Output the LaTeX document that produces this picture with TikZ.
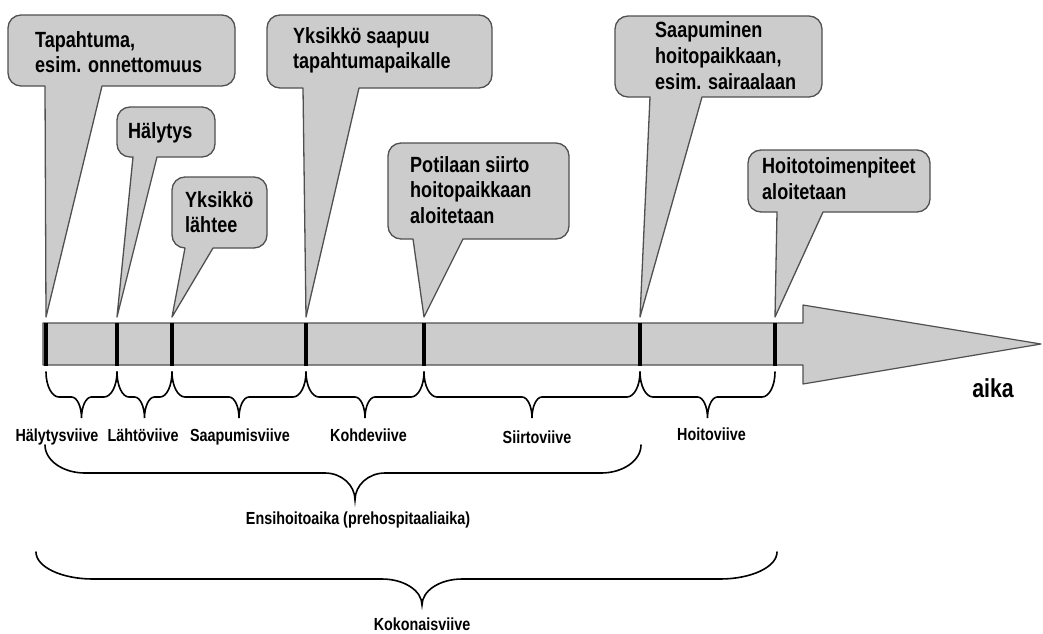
\documentclass[tikz,border=0pt]{standalone}
\usepackage{fontspec}
\usepackage{graphicx}
\setmainfont{Liberation Sans}
\definecolor{boxfill}{RGB}{204,204,204}
\definecolor{edgecol}{RGB}{80,80,80}
\newcommand\narr[1]{\scalebox{0.82}[1]{#1}}
\tikzset{
  calloutshape/.style={fill=boxfill, draw=edgecol, line width=1.3pt, line join=round},
  barshape/.style={fill=boxfill, draw=edgecol, line width=1.2pt, line join=round},
  tickline/.style={line width=4pt, black},
  bracestyle/.style={line width=1.6pt, black, line cap=round},
  ctxt/.style={anchor=base west, inner sep=0pt, font=\fontsize{22}{25.5}\selectfont\bfseries},
  lab/.style={anchor=base, inner sep=0pt, font=\fontsize{17.5}{20}\selectfont\bfseries},
}
% #1 L, #2 T, #3 R, #4 B, #5 base1, #6 base2, #7 tip
\newcommand\callout[7]{%
  \filldraw[calloutshape] (#5,#4) -- ({#1+13},#4) .. controls ({#1+5.8},#4) and (#1,{#4-5.8}) .. (#1,{#4-13})
   -- (#1,{#2+13}) .. controls (#1,{#2+5.8}) and ({#1+5.8},#2) .. ({#1+13},#2)
   -- ({#3-13},#2) .. controls ({#3-5.8},#2) and (#3,{#2+5.8}) .. (#3,{#2+13})
   -- (#3,{#4-13}) .. controls (#3,{#4-5.8}) and ({#3-5.8},#4) .. ({#3-13},#4)
   -- (#6,#4) -- (#7) -- cycle;}
% #1 a, #2 b, #3 tip x, #4 y0, #5 y1, #6 y2, #7 end radius, #8 tip radius
\newcommand\mybrace[8]{%
  \draw[bracestyle] (#1,#4) .. controls (#1,{#4+0.552*(#5-#4)}) and ({#1+0.448*#7},#5) .. ({#1+#7},#5)
   -- ({#3-#8},#5) .. controls ({#3-0.448*#8},#5) and (#3,{#6-0.552*(#6-#5)}) .. (#3,#6)
   .. controls (#3,{#6-0.552*(#6-#5)}) and ({#3+0.448*#8},#5) .. ({#3+#8},#5)
   -- ({#2-#7},#5) .. controls ({#2-0.448*#7},#5) and (#2,{#4+0.552*(#5-#4)}) .. (#2,#4);}
\begin{document}
\begin{tikzpicture}[x=1pt,y=-1pt]
\useasboundingbox (0,0) rectangle (1043,633);
% tick coordinates
\coordinate (k1) at (46,323);
\coordinate (k2) at (117,323);
\coordinate (k3) at (172,323);
\coordinate (k4) at (306,323);
\coordinate (k5) at (424,323);
\coordinate (k6) at (640,323);
\coordinate (k7) at (775,323);
% pointer tips
\coordinate (p1) at (46,317);
\coordinate (p2) at (117,317);
\coordinate (p3) at (172,317);
\coordinate (p4) at (306,317);
\coordinate (p5) at (424,317);
\coordinate (p6) at (640,317);
\coordinate (p7) at (775,317);
% time arrow
\filldraw[barshape] (43,323) -- (803,323) -- (803,305) -- (1041,344) -- (803,384) -- (803,365) -- (43,365) -- cycle;
\foreach \k in {k1,k2,k3,k4,k5,k6,k7} \draw[tickline] (\k) -- ++(0,43);
% callouts
\callout{8}{15}{235}{86}{45}{102}{p1}
\callout{117}{107}{215}{157}{133}{157}{p2}
\callout{172}{177}{267}{248}{185}{213}{p3}
\callout{267}{15}{492}{88}{303}{359}{p4}
\callout{388}{143}{569}{239}{413}{463}{p5}
\callout{615}{16}{822}{97}{650}{702}{p6}
\callout{748}{150}{930}{212}{777}{823}{p7}
\node[ctxt] (c1a) at (35,47) {\narr{Tapahtuma,}};
\node[ctxt] (c1b) at (35,72.5) {\narr{esim. onnettomuus}};
\node[ctxt] (c2a) at (128,138) {\narr{Hälytys}};
\node[ctxt] (c3a) at (185,207) {\narr{Yksikkö}};
\node[ctxt] (c3b) at (185,232.5) {\narr{lähtee}};
\node[ctxt] (c4a) at (293,43) {\narr{Yksikkö saapuu}};
\node[ctxt] (c4b) at (293,68.5) {\narr{tapahtumapaikalle}};
\node[ctxt] (c5a) at (410,172) {\narr{Potilaan siirto}};
\node[ctxt] (c5b) at (410,197.5) {\narr{hoitopaikkaan}};
\node[ctxt] (c5c) at (410,223) {\narr{aloitetaan}};
\node[ctxt] (c6a) at (655,37) {\narr{Saapuminen}};
\node[ctxt] (c6b) at (655,63) {\narr{hoitopaikkaan,}};
\node[ctxt] (c6c) at (655,89) {\narr{esim. sairaalaan}};
\node[ctxt] (c7a) at (762,173) {\narr{Hoitotoimenpiteet}};
\node[ctxt] (c7b) at (762,199) {\narr{aloitetaan}};
% braces
\mybrace{46}{117}{81.5}{372}{397}{418}{13}{10}
\mybrace{117}{172}{144.5}{372}{397}{418}{12}{10}
\mybrace{172}{306}{239}{372}{397}{418}{13}{10}
\mybrace{306}{424}{365}{372}{397}{418}{13}{10}
\mybrace{424}{640}{532}{372}{397}{418}{13}{10}
\mybrace{640}{775}{707.5}{372}{397}{418}{13}{10}
\mybrace{45}{641}{355}{445}{473}{500}{40}{30}
\mybrace{36}{777}{422}{552}{579}{605}{57}{40}
% labels
\node[lab] (l1) at (57,441) {\narr{Hälytysviive}};
\node[lab] (l2) at (143,441) {\narr{Lähtöviive}};
\node[lab] (l3) at (240,441) {\narr{Saapumisviive}};
\node[lab] (l4) at (368.5,441) {\narr{Kohdeviive}};
\node[lab] (l5) at (537,443.5) {\narr{Siirtoviive}};
\node[lab] (l6) at (711.5,440.5) {\narr{Hoitoviive}};
\node[lab] (l7) at (358,524) {\narr{Ensihoitoaika (prehospitaaliaika)}};
\node[lab] (l8) at (422,630) {\narr{Kokonaisviive}};
\node[anchor=base, inner sep=0pt, font=\fontsize{26}{30}\selectfont\bfseries] (aika) at (993,397) {\narr{aika}};
\end{tikzpicture}
\end{document}
